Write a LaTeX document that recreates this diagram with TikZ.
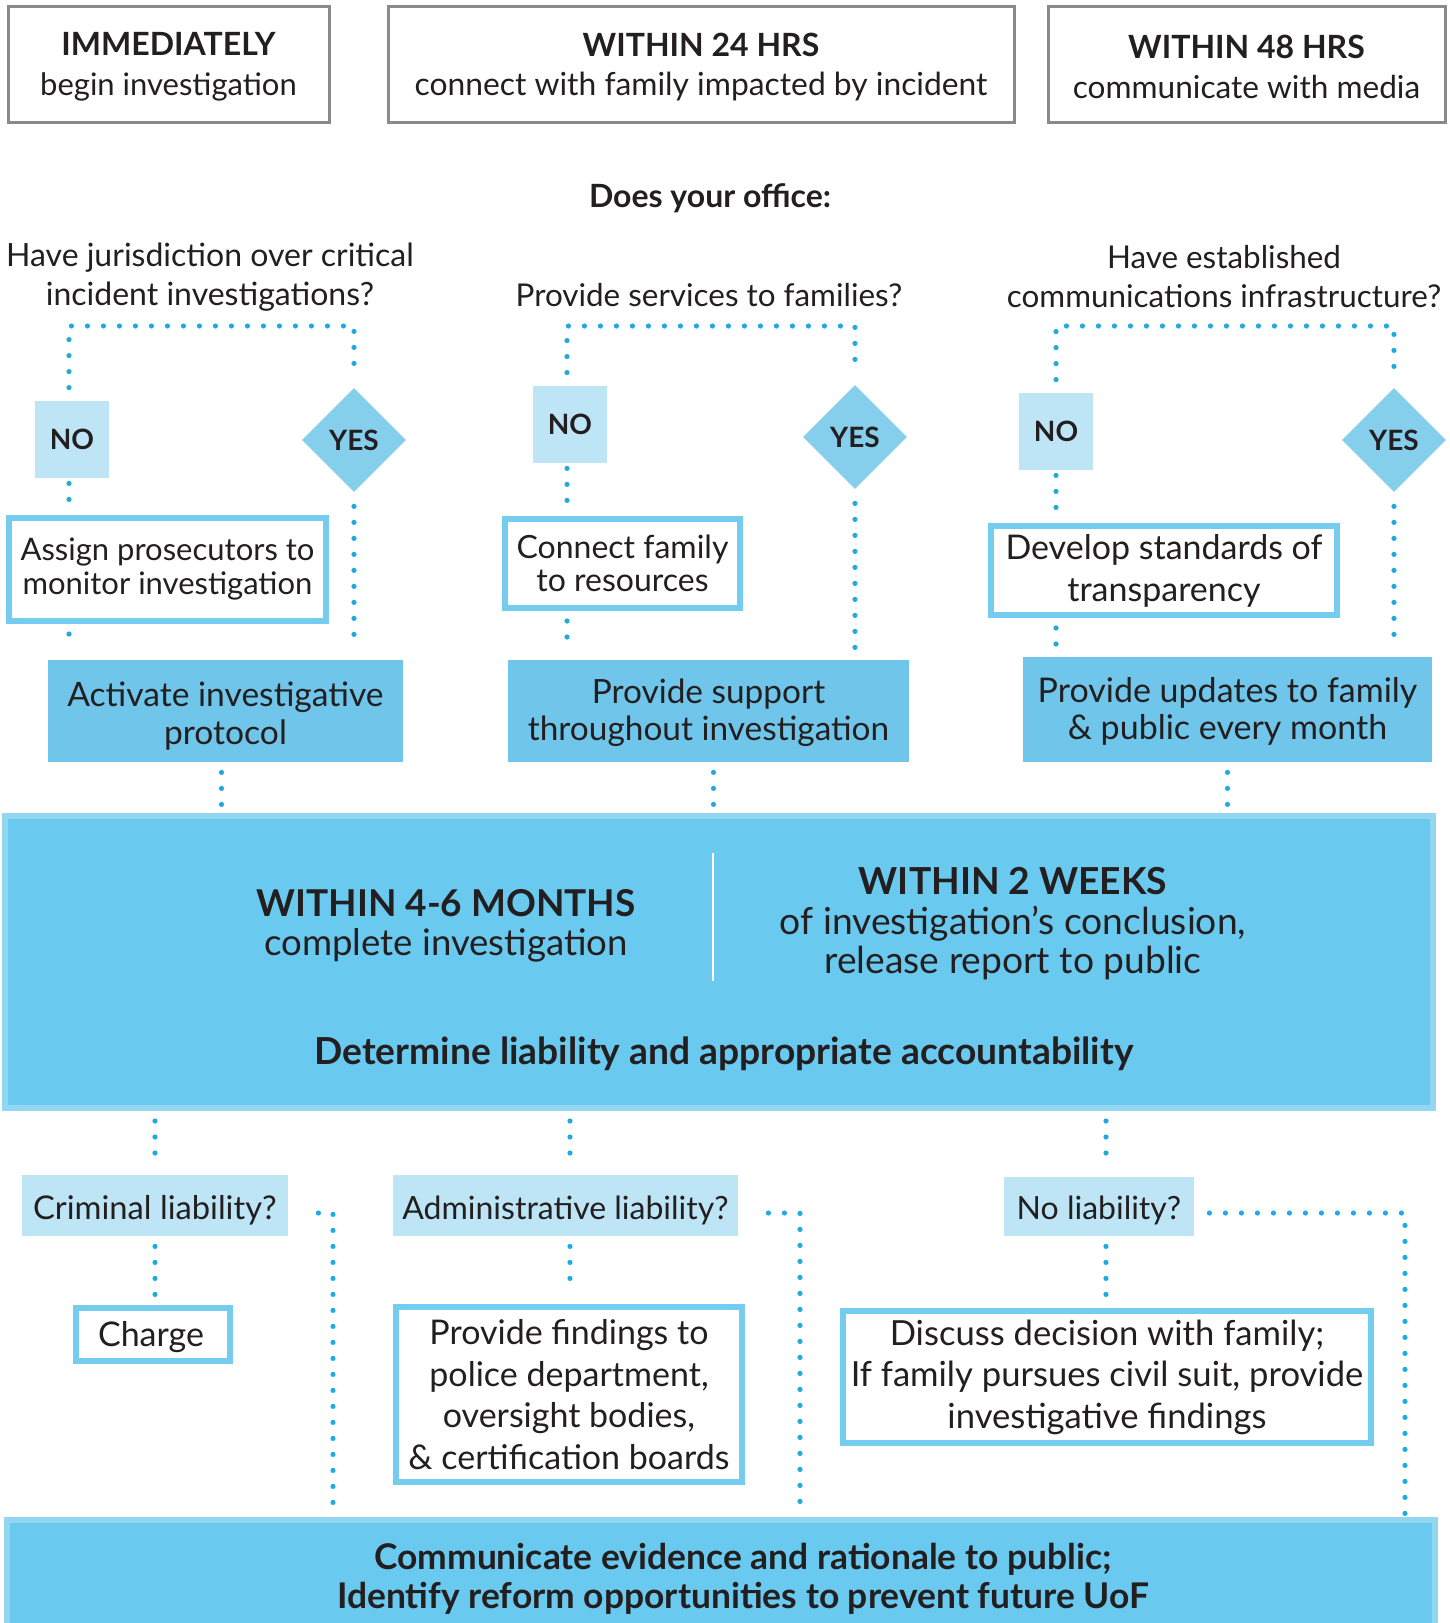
\documentclass[tikz,border=0pt]{standalone}
\usepackage{fontspec}
\setmainfont{Lato}
\usetikzlibrary{shapes.geometric}
\definecolor{topgray}{RGB}{138,138,138}
\definecolor{nofill}{RGB}{189,229,246}
\definecolor{yesfill}{RGB}{134,207,236}
\definecolor{darkfill}{RGB}{111,198,234}
\definecolor{outline}{RGB}{116,204,238}
\definecolor{bigfill}{RGB}{106,201,238}
\definecolor{bigedge}{RGB}{146,214,242}
\definecolor{dotc}{RGB}{30,170,226}
\definecolor{txt}{RGB}{35,31,32}
\newcommand\fs[2]{\fontsize{#1}{#2}\selectfont}
\tikzset{
  topbox/.style={draw=topgray, line width=1.5pt, inner sep=0pt, align=center, minimum height=58pt},
  nobox/.style={fill=nofill, inner sep=0pt, minimum width=37pt, minimum height=38.5pt, font=\fs{14}{16}\bfseries},
  yesdia/.style={diamond, fill=yesfill, inner sep=0pt, minimum width=52pt, minimum height=52pt, font=\fs{14}{16}\bfseries},
  outbox/.style={draw=outline, line width=3pt, fill=white, inner sep=0pt, align=center},
  darkbox/.style={fill=darkfill, inner sep=0pt, align=center},
  lbox/.style={fill=nofill, inner sep=0pt, align=center},
  bigbox/.style={fill=bigfill, draw=bigedge, line width=3pt, inner sep=0pt},
  dotline/.style={draw=dotc, line width=2.6pt, line cap=round, dash pattern=on 0pt off 8pt, shorten <=5pt, shorten >=5pt}
}
\begin{document}
\begin{tikzpicture}[x=0.5pt,y=-0.5pt, every node/.append style={text=txt}]
\useasboundingbox (0,0) rectangle (1450,1623);
\fill[white] (0,0) rectangle (1450,1623);

% top boxes
\node[topbox, minimum width=160.5pt, font=\fs{15.5}{19.75}] (top1) at (168.5,64) {};
\node[align=center, font=\fs{15.5}{19.75}] (top1t) at (168.5,67) {{\bfseries\fs{16}{19.75}IMMEDIATELY}\\begin investigation};
\node[topbox, minimum width=313pt] (top2) at (701,64) {};
\node[align=center, font=\fs{15.9}{19.75}] (top2t) at (701,67) {{\bfseries\fs{16}{19.75}WITHIN 24 HRS}\\connect with family impacted by incident};
\node[topbox, minimum width=198.5pt] (top3) at (1246.5,64) {};
\node[align=center, font=\fs{15.8}{19.75}] (top3t) at (1246.5,67) {{\bfseries\fs{16}{19.75}WITHIN 48 HRS}\\communicate with media};

\node[font=\fs{16}{19}\bfseries] (office) at (710,198) {Does your office:};
\node[align=center, font=\fs{16}{19.5}] (q1) at (210,277.5) {Have jurisdiction over critical\\incident investigations?};
\node[font=\fs{15.7}{19.5}] (q2) at (709,295) {Provide services to families?};
\node[align=center, font=\fs{15.7}{19.5}] (q3) at (1224,276.5) {Have established\\communications infrastructure?};

% left branch
\node[nobox] (no1) at (72,439.5) {NO};
\node[yesdia] (yes1) at (354,440) {YES};
\node[outbox, minimum width=158.5pt, minimum height=51.5pt, font=\fs{15.5}{17}] (assign) at (167.5,569.5) {Assign prosecutors to\\monitor investigation};
\node[darkbox, minimum width=177.5pt, minimum height=51pt] (activate) at (225.5,711) {};
\node[align=center, font=\fs{16.8}{19}] (activatet) at (225.5,716) {Activate investigative\\protocol};

% middle branch
\node[nobox] (no2) at (570,424.5) {NO};
\node[yesdia] (yes2) at (855,437) {YES};
\node[outbox, minimum width=117.5pt, minimum height=44.5pt, font=\fs{16}{16.5}] (connect) at (622.5,563.5) {Connect family\\to resources};
\node[darkbox, minimum width=200.5pt, minimum height=51pt] (support) at (708.5,711) {};
\node[align=center, font=\fs{16.7}{18.5}] (supportt) at (708.5,713) {Provide support\\throughout investigation};

% right branch
\node[nobox] (no3) at (1056,431.5) {NO};
\node[yesdia] (yes3) at (1394,440) {YES};
\node[outbox, minimum width=173pt, minimum height=44.5pt, font=\fs{17}{21}] (develop) at (1164,570.5) {Develop standards of\\transparency};
\node[darkbox, minimum width=204.5pt, minimum height=52.5pt] (updates) at (1227.5,709.5) {};
\node[align=center, font=\fs{17}{18.5}] (updatest) at (1227.5,711.5) {Provide updates to family\\\& public every month};

% big box
\node[bigbox, minimum width=714pt, minimum height=146pt] (big) at (719,962) {};
\draw[white, line width=1pt] (713,853) -- (713,981);
\node[align=center, font=\fs{18.3}{19.5}] (t46) at (446,926) {{\bfseries\fs{18.5}{19.5}WITHIN 4-6 MONTHS}\\complete investigation};
\node[align=center, font=\fs{18.6}{19.75}] (t2w) at (1013,924) {{\bfseries WITHIN 2 WEEKS}\\of investigation’s conclusion,\\release report to public};
\node[font=\fs{18.6}{20}\bfseries] (det) at (724,1054) {Determine liability and appropriate accountability};

% bottom
\node[lbox, minimum width=133pt, minimum height=30.5pt] (crim) at (155,1205.5) {};
\node[font=\fs{16.35}{18}] (crimt) at (155,1210) {Criminal liability?};
\node[outbox, minimum width=77pt, minimum height=26.5pt] (charge) at (153,1334.5) {};
\node[font=\fs{17}{18}] (charget) at (151,1337.5) {Charge};
\node[lbox, minimum width=172.5pt, minimum height=30.5pt] (admin) at (565.5,1205.5) {};
\node[font=\fs{16}{18}] (admint) at (565.5,1210) {Administrative liability?};
\node[outbox, minimum width=173pt, minimum height=87.5pt, font=\fs{17}{20.7}] (findings) at (569,1394.5) {Provide findings to\\police department,\\oversight bodies,\\\& certification boards};
\node[lbox, minimum width=95pt, minimum height=29.5pt] (noliab) at (1099,1206.5) {};
\node[font=\fs{16}{18}] (noliabt) at (1099,1210) {No liability?};
\node[outbox, minimum width=264pt, minimum height=66pt, font=\fs{17.3}{20.7}] (discuss) at (1107,1377) {Discuss decision with family;\\If family pursues civil suit, provide\\investigative findings};
\node[bigbox, minimum width=714pt, minimum height=60pt] (final) at (720.5,1580) {};
\node[align=center, font=\fs{17.7}{19.5}\bfseries] (finaltext) at (743,1578.5) {Communicate evidence and rationale to public;\\Identify reform opportunities to prevent future UoF};

% connectors top
\coordinate (h1) at (211,326);
\coordinate (h2) at (709,326);
\coordinate (h3) at (1224,326);
\draw[dotline, shorten <=6.5pt, shorten >=6pt] ([xshift=-1.5pt]no1.north) |- (h1) -| (yes1.north);
\draw[dotline, shorten <=6.5pt, shorten >=6pt] ([xshift=-1.5pt]no2.north) |- (h2) -| (yes2.north);
\draw[dotline, shorten <=6.5pt, shorten >=6pt] (no3.north) |- (h3) -| (yes3.north);
\draw[dotline, shorten <=2.5pt, shorten >=2pt] ([xshift=-1.5pt]no1.south) -- ([xshift=-1.5pt]no1.south |- assign.north);
\draw[dotline, shorten <=2.5pt, shorten >=2pt] ([xshift=-1.5pt]no2.south) -- ([xshift=-1.5pt]no2.south |- connect.north);
\draw[dotline, shorten <=2.5pt, shorten >=2pt] (no3.south) -- (no3.south |- develop.north);
\draw[dotline] ([xshift=-1.5pt]assign.south -| no1) -- ([xshift=-1.5pt]activate.north -| no1);
\draw[dotline] ([xshift=-1.5pt]connect.south -| no2) -- ([xshift=-1.5pt]support.north -| no2);
\draw[dotline] (develop.south -| no3) -- (updates.north -| no3);
\draw[dotline, shorten <=7pt] (yes1.south) -- (yes1.south |- activate.north);
\draw[dotline, shorten <=7pt] (yes2.south) -- (yes2.south |- support.north);
\draw[dotline, shorten <=7pt] (yes3.south) -- (yes3.south |- updates.north);
\draw[dotline, shorten >=3pt] ([xshift=-2pt]activate.south) -- ([xshift=-2pt]activate.south |- big.north);
\draw[dotline, shorten >=3pt] ([xshift=2.5pt]support.south) -- ([xshift=2.5pt]support.south |- big.north);
\draw[dotline, shorten >=3pt] (updates.south) -- (updates.south |- big.north);

% connectors bottom
\draw[dotline] (crim.north |- big.south) -- (crim.north);
\draw[dotline] ([xshift=2.25pt]admin.north |- big.south) -- ([xshift=2.25pt]admin.north);
\draw[dotline] ([xshift=3.5pt]noliab.north |- big.south) -- ([xshift=3.5pt]noliab.north);
\draw[dotline] (crim.south) -- (crim.south |- charge.north);
\draw[dotline] ([xshift=2.25pt]admin.south) -- ([xshift=2.25pt]admin.south |- findings.north);
\draw[dotline] ([xshift=3.5pt]noliab.south) -- ([xshift=3.5pt]noliab.south |- discuss.north);
\coordinate (c1) at (333,1213);
\coordinate (c2) at (800,1213);
\coordinate (c3) at (1405,1213);
\draw[dotline, shorten <=15pt, shorten >=1pt] (crim.east |- c1) -- (c1) -- (c1 |- final.north);
\draw[dotline, shorten <=15pt, shorten >=1pt] (admin.east |- c2) -- (c2) -- (c2 |- final.north);
\draw[dotline, shorten <=7.5pt, shorten >=1pt] (noliab.east |- c3) -- (c3) -- (c3 |- final.north);
\end{tikzpicture}
\end{document}
